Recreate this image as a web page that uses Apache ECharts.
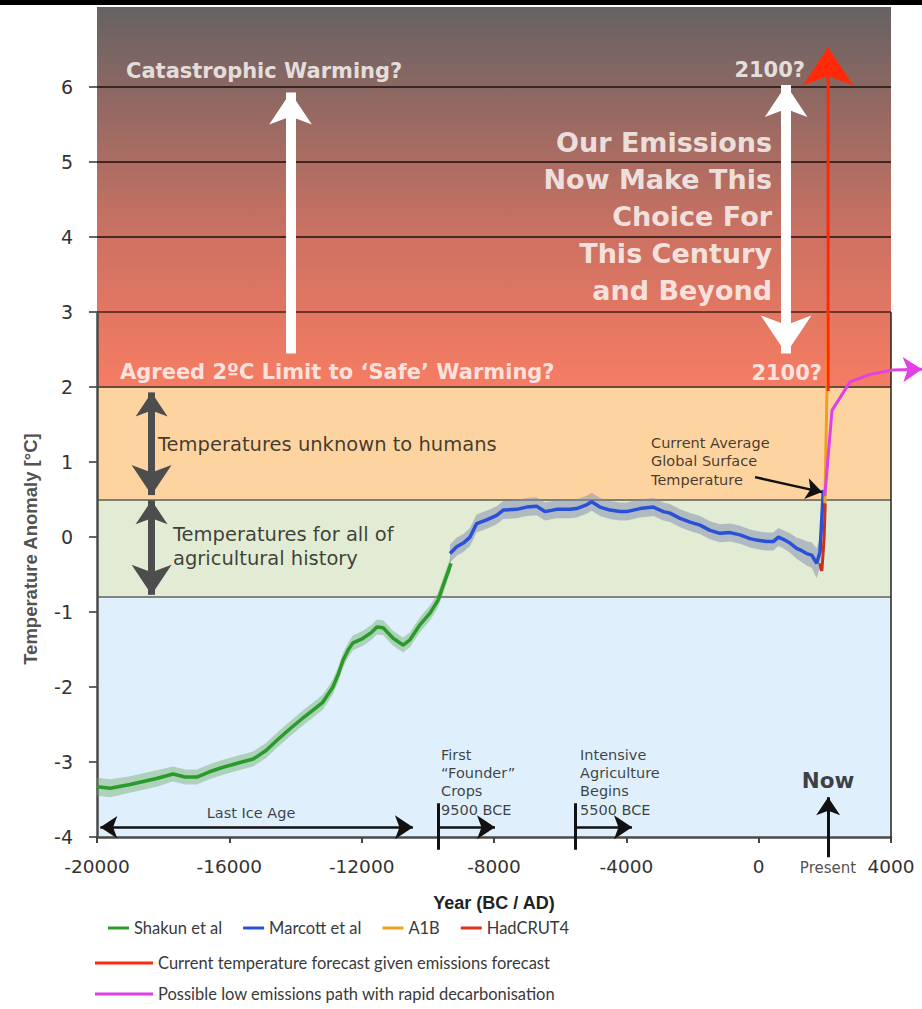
<!DOCTYPE html>
<html><head><meta charset="utf-8">
<script src="https://cdn.jsdelivr.net/npm/echarts@6/dist/echarts.min.js"></script>
<style>html,body{margin:0;padding:0;background:#fff}#c{width:922px;height:1009px}</style>
</head><body><div id="c"></div><script>
// ---------------- data ----------------
const yTickValues = [-4,-3,-2,-1,0,1,2,3,4,5,6];
const bandEdges = [-4, -0.8, 0.5, 2, 7.07];
const redZoneLines = [3,4,5,6];

const shakunYears = [-20000,-19600,-19000,-18700,-18200,-17700,-17340,-16980,-16600,-16190,-15700,-15280,-14900,-14560,-14200,-13770,-13450,-13170,-12870,-12700,-12560,-12400,-12260,-11960,-11700,-11540,-11350,-11200,-11050,-10750,-10540,-10240,-9930,-9690,-9500,-9300];
const shakunTemp = [-3.33,-3.35,-3.3,-3.27,-3.22,-3.16,-3.2,-3.2,-3.13,-3.07,-3.01,-2.96,-2.85,-2.71,-2.57,-2.41,-2.3,-2.2,-2.0,-1.82,-1.64,-1.5,-1.41,-1.35,-1.27,-1.2,-1.21,-1.28,-1.35,-1.44,-1.37,-1.17,-1.01,-0.84,-0.6,-0.35];
const shakunErr = [0.12,0.12,0.11,0.11,0.11,0.1,0.1,0.1,0.1,0.1,0.1,0.1,0.1,0.1,0.1,0.1,0.1,0.1,0.1,0.1,0.1,0.1,0.1,0.1,0.1,0.1,0.1,0.1,0.1,0.1,0.1,0.1,0.1,0.1,0.1,0.1];

const marcottYears = [-9330,-9128,-8927,-8725,-8524,-8222,-7920,-7718,-7315,-7013,-6710,-6458,-6106,-5703,-5502,-5200,-5048,-4796,-4494,-4191,-3990,-3587,-3184,-2881,-2680,-2378,-2075,-1773,-1471,-1169,-866,-564,-262,-60,242,443,594,745,947,1149,1250,1452,1603,1754,1854,1955];
const marcottTemp = [-0.22,-0.13,-0.08,0.0,0.18,0.23,0.29,0.36,0.37,0.4,0.41,0.34,0.37,0.37,0.38,0.43,0.47,0.4,0.36,0.34,0.34,0.38,0.4,0.34,0.32,0.25,0.2,0.16,0.09,0.05,0.06,0.03,-0.02,-0.04,-0.06,-0.06,0.0,-0.03,-0.08,-0.15,-0.17,-0.22,-0.24,-0.35,-0.2,0.63];
const marcottErr = [0.12,0.12,0.12,0.12,0.12,0.12,0.12,0.12,0.12,0.12,0.12,0.12,0.12,0.12,0.12,0.12,0.12,0.12,0.12,0.12,0.12,0.12,0.12,0.12,0.12,0.12,0.12,0.12,0.12,0.12,0.12,0.12,0.12,0.12,0.12,0.12,0.12,0.12,0.13,0.14,0.15,0.16,0.17,0.2,0.2,0.05];

const hadcrutYears = [1850,1880,1910,1950,1980,2012];
const hadcrutTemp = [-0.35,-0.42,-0.45,-0.2,0.0,0.45];

const a1bYears = [2000,2050,2100];
const a1bTemp = [0.45,1.6,3.0];

const forecastYears = [2100,2100];
const forecastTemp = [1.95,6.53];

const lowPathYears = [2000,2217,2761,3366,4061];
const lowPathTemp = [0.55,1.69,2.07,2.17,2.23];

const legendRow1 = ['Shakun et al','Marcott et al','A1B','HadCRUT4'];
const legendRow2 = ['Current temperature forecast given emissions forecast'];
const legendRow3 = ['Possible low emissions path with rapid decarbonisation'];

// ---------------- chart ----------------
const chart = echarts.init(document.getElementById('c'), null, {renderer:'svg'});
const pairs = (xs, ys) => xs.map((x,i)=>[x, ys[i]]);

function bandSeries(years, temp, err, color) {
  return {
    type:'custom', z:2, silent:true,
    data: pairs(years, temp), encode:{x:0, y:1},
    renderItem(params, api) {
      if (params.dataIndex !== 0) return null;
      const up = years.map((y,i)=>api.coord([y, temp[i]+err[i]]));
      const lo = years.map((y,i)=>api.coord([y, temp[i]-err[i]])).reverse();
      return {type:'polygon', shape:{points: up.concat(lo)}, style:{fill: color}};
    }
  };
}
function arrowSeries(segs, color, width, symbol, size, z) {
  return {
    type:'lines', coordinateSystem:'cartesian2d', z: z, silent:true, clip:false,
    symbol: symbol, symbolSize: size,
    lineStyle:{color: color, width: width, opacity:1, curveness:0},
    itemStyle:{color: color},
    data: segs.map(s=>({coords: s}))
  };
}

const fontD = 'DejaVu Sans';
const legendFont = {fontFamily:'Lato', fontSize:16.5, color:'#3a3a3a', lineHeight:24};
const styles = {
  white: {color:'#fff', fontFamily:fontD, fontWeight:'bold', fontSize:21},
  whiteBig: {color:'#fff', fontFamily:fontD, fontWeight:'bold', fontSize:27, lineHeight:37, align:'right'},
  black: {color:'#111', fontFamily:fontD, fontSize:19.5, lineHeight:24},
  small: {color:'#111', fontFamily:fontD, fontSize:14.5, lineHeight:18.3},
  now: {color:'#111', fontFamily:fontD, fontWeight:'bold', fontSize:21.5},
  present: {color:'#222', fontFamily:fontD, fontSize:15},
  yname: {color:'#222', fontFamily:'Liberation Sans', fontWeight:'bold', fontSize:18.5, rotate:90}
};
const annotations = [
  {t:'Catastrophic Warming?', v:[-19123,6.21], p:'right', s:'white'},
  {t:'Agreed 2ºC Limit to ‘Safe’ Warming?', v:[-19305,2.2], p:'right', s:'white'},
  {t:'2100?', v:[1401,6.23], p:'left', s:'white'},
  {t:'2100?', v:[1915,2.19], p:'left', s:'white'},
  {t:'Our Emissions\nNow Make This\nChoice For\nThis Century\nand Beyond', v:[403,4.28], p:'left', s:'whiteBig'},
  {t:'Temperatures unknown to humans', v:[-18156,1.23], p:'right', s:'black'},
  {t:'Temperatures for all of\nagricultural history', v:[-17703,-0.12], p:'right', s:'black'},
  {t:'Current Average\nGlobal Surface\nTemperature', v:[-3254,1.01], p:'right', s:'small'},
  {t:'Last Ice Age', v:[-15345,-3.68], p:'inside', s:'small'},
  {t:'First\n“Founder”\nCrops\n9500 BCE', v:[-9602,-3.27], p:'right', s:'small'},
  {t:'Intensive\nAgriculture\nBegins\n5500 BCE', v:[-5400,-3.27], p:'right', s:'small'},
  {t:'Now', v:[2096,-3.25], p:'inside', s:'now'},
  {t:'Present', v:[2096,-4.41], p:'inside', s:'present'},
  {t:'Temperature Anomaly [°C]', v:[-21995,-0.16], p:'inside', s:'yname'}
];

const redGrad = {type:'linear', x:0, y:0, x2:0, y2:1, colorStops:[
  {offset:0, color:'#666262'}, {offset:0.3, color:'#9a6a62'},
  {offset:0.62, color:'#cf7262'}, {offset:1, color:'#f67c63'}]};

const option = {
  animation:false,
  backgroundColor:'#fff',
  graphic:[{type:'rect', left:0, top:0, shape:{width:922, height:5}, style:{fill:'#000'}, silent:true}],
  grid:{left:97, right:31, top:7, bottom:172, containLabel:false},
  xAxis:{type:'value', min:-20000, max:4000, interval:4000,
    axisLine:{show:true, onZero:false, lineStyle:{color:'#4a4a4a', width:2.5}},
    axisTick:{show:true, length:6, lineStyle:{color:'#444', width:2}},
    axisLabel:{margin:20, color:'#333', fontFamily:fontD, fontSize:18.5, formatter:(v)=>String(v)},
    splitLine:{show:false},
    name:'Year (BC / AD)', nameLocation:'middle', nameGap:57,
    nameTextStyle:{fontFamily:'Liberation Sans', fontWeight:'bold', fontSize:18, color:'#222'}
  },
  yAxis:{type:'value', min:-4, max:7.07, interval:1,
    axisLine:{show:false, onZero:false},
    axisTick:{show:true, length:8, customValues:yTickValues, lineStyle:{color:'#333', width:1.5}},
    axisLabel:{margin:24, customValues:yTickValues, color:'#333', fontFamily:fontD, fontSize:19,
      formatter:(v)=> v>6.5 ? '' : String(v)},
    splitLine:{show:false}
  },
  legend:[
    {data:legendRow1, left:108, top:916, padding:0, icon:'rect', itemWidth:21, itemHeight:3, itemGap:21, textStyle:legendFont},
    {data:legendRow2, left:95, top:951, padding:0, icon:'rect', itemWidth:58, itemHeight:3, textStyle:legendFont},
    {data:legendRow3, left:95, top:982, padding:0, icon:'rect', itemWidth:58, itemHeight:3, textStyle:legendFont}
  ],
  series:[
    {type:'line', data:[], z:0, silent:true,
      markArea:{silent:true, z:0, data:[
        [{yAxis:bandEdges[3], itemStyle:{color:redGrad}}, {yAxis:bandEdges[4]}],
        [{yAxis:bandEdges[2], itemStyle:{color:'#fdd49f'}}, {yAxis:bandEdges[3]}],
        [{yAxis:bandEdges[1], itemStyle:{color:'#e2ebd3'}}, {yAxis:bandEdges[2]}],
        [{yAxis:bandEdges[0], itemStyle:{color:'#dff0fc'}}, {yAxis:bandEdges[1]}]
      ]},
      markLine:{silent:true, z:1, symbol:'none', label:{show:false}, data:[
        {yAxis:redZoneLines[0], lineStyle:{color:'#4a2118', width:1.5, type:'solid'}},
        {yAxis:redZoneLines[1], lineStyle:{color:'#1a1010', width:1.5, type:'solid'}},
        {yAxis:redZoneLines[2], lineStyle:{color:'#1a1010', width:1.5, type:'solid'}},
        {yAxis:redZoneLines[3], lineStyle:{color:'#1a1010', width:1.5, type:'solid'}},
        {yAxis:bandEdges[3], lineStyle:{color:'#6e4a3e', width:2, type:'solid'}},
        {yAxis:bandEdges[2], lineStyle:{color:'#5a5a52', width:1.5, type:'solid'}},
        {yAxis:bandEdges[1], lineStyle:{color:'#5e6262', width:1.5, type:'solid'}}
      ]}
    },
    // left axis line and right frame (from -4 up to 3)
    arrowSeries([[[-20000,-4],[-20000,3]]], '#4a4a4a', 2.5, 'none', 0, 2),
    arrowSeries([[[4000,-4],[4000,3]]], '#222', 1.5, 'none', 0, 2),
    bandSeries(shakunYears, shakunTemp, shakunErr, 'rgba(105,170,95,0.42)'),
    bandSeries(marcottYears, marcottTemp, marcottErr, 'rgba(125,140,175,0.5)'),
    {name:'Shakun et al', type:'line', z:3, showSymbol:false, silent:true, data:pairs(shakunYears, shakunTemp),
      lineStyle:{color:'#2a9a2a', width:3.5}, itemStyle:{color:'#2a9a2a'}},
    {name:'Marcott et al', type:'line', z:3, showSymbol:false, silent:true, data:pairs(marcottYears, marcottTemp),
      lineStyle:{color:'#2a50d8', width:3.5}, itemStyle:{color:'#2a50d8'}},
    {name:'A1B', type:'line', z:3, showSymbol:false, silent:true, data:pairs(a1bYears, a1bTemp),
      lineStyle:{color:'#f0a020', width:3}, itemStyle:{color:'#f0a020'}},
    {name:'HadCRUT4', type:'line', z:3, showSymbol:false, silent:true, data:pairs(hadcrutYears, hadcrutTemp),
      lineStyle:{color:'#c8321e', width:3}, itemStyle:{color:'#e0301e'}},
    {name:legendRow2[0], type:'line', z:4, showSymbol:false, silent:true, clip:false, data:pairs(forecastYears, forecastTemp),
      lineStyle:{color:'#ff2a0a', width:3}, itemStyle:{color:'#ff2a0a'}},
    {name:legendRow3[0], type:'line', z:4, showSymbol:false, silent:true, clip:false, data:pairs(lowPathYears, lowPathTemp),
      lineStyle:{color:'#e040e4', width:3}, itemStyle:{color:'#e040e4'}},
    // arrowheads (tips at the end coordinates)
    arrowSeries([[[2100,6.0],[2100,6.53]]], '#ff2a0a', 3, ['none','arrow'], [42,38], 4),
    arrowSeries([[[4061,2.23],[4937,2.24]]], '#e040e4', 3, ['none','arrow'], [26,19], 4),
    // white arrows
    arrowSeries([[[-14150,2.45],[-14150,5.93]]], '#ffffff', 10, ['none','arrow'], [37,32], 5),
    arrowSeries([[[830,2.45],[830,6.03]]], '#ffffff', 10, ['arrow','arrow'], [38,32], 5),
    // gray double arrows
    arrowSeries([[[-18350,0.56],[-18350,1.93]], [[-18350,-0.77],[-18350,0.49]]], '#4d4d4d', 7, ['arrow','arrow'], [30,24], 5),
    // black annotations
    arrowSeries([[[-19900,-3.87],[-10450,-3.87]]], '#111', 2.5, ['arrow','arrow'], [17,18], 5),
    arrowSeries([[[-9700,-3.87],[-7970,-3.87]], [[-5550,-3.87],[-3830,-3.87]]], '#111', 2.5, ['none','arrow'], [17,18], 5),
    arrowSeries([[[-9700,-3.55],[-9700,-4.17]], [[-5550,-3.55],[-5550,-4.17]]], '#111', 3, 'none', 0, 5),
    arrowSeries([[[2100,-4.27],[2100,-3.47]]], '#111', 3, ['none','arrow'], [18,18], 5),
    arrowSeries([[[-110,0.8],[1917,0.6]]], '#111', 2.5, ['none','arrow'], [14,16], 5),
    // text annotations
    {type:'scatter', z:6, silent:true, clip:false, symbolSize:0,
      data: annotations.map(a=>({value:a.v, label:Object.assign({show:true, position:a.p, distance:0, formatter:a.t}, styles[a.s])}))}
  ]
};
chart.setOption(option);
</script></body></html>
